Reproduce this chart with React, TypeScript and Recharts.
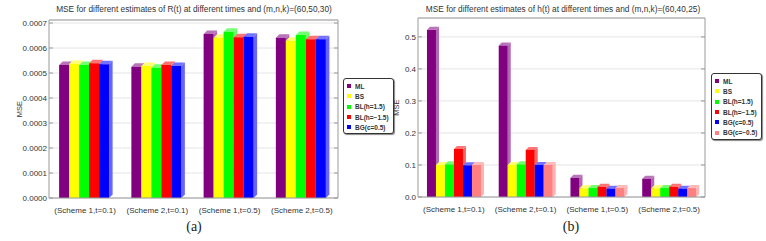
import React from 'react';
import { BarChart, Bar, XAxis, YAxis, CartesianGrid, Legend } from 'recharts';

const categories = ['(Scheme 1,t=0.1)', '(Scheme 2,t=0.1)', '(Scheme 1,t=0.5)', '(Scheme 2,t=0.5)'];

// (a) MSE of R(t), (m,n,k)=(60,50,30)
const rML = [0.000532, 0.000525, 0.000656, 0.000641];
const rBS = [0.000536, 0.000528, 0.000641, 0.000629];
const rBLpos = [0.000532, 0.000521, 0.000665, 0.000652];
const rBLneg = [0.000539, 0.000532, 0.000643, 0.000635];
const rBGpos = [0.000535, 0.000528, 0.000645, 0.000635];
const rTicks = [0, 0.0001, 0.0002, 0.0003, 0.0004, 0.0005, 0.0006, 0.0007];
const rTickLabels = ['0.0000', '0.0001', '0.0002', '0.0003', '0.0004', '0.0005', '0.0006', '0.0007'];

// (b) MSE of h(t), (m,n,k)=(60,40,25)
const hML = [0.522, 0.473, 0.06, 0.057];
const hBS = [0.1, 0.1, 0.027, 0.027];
const hBLpos = [0.102, 0.102, 0.028, 0.028];
const hBLneg = [0.15, 0.147, 0.032, 0.032];
const hBGpos = [0.099, 0.1, 0.026, 0.026];
const hBGneg = [0.1, 0.1, 0.028, 0.028];
const hTicks = [0, 0.1, 0.2, 0.3, 0.4, 0.5];
const hTickLabels = ['0.0', '0.1', '0.2', '0.3', '0.4', '0.5'];

const FONT = '"Liberation Sans", Arial, sans-serif';
const FRAME = '#9a9a9a';

const seriesR = [
  { key: 'ml', name: 'ML', color: '#800080', values: rML },
  { key: 'bs', name: 'BS', color: '#ffff00', values: rBS },
  { key: 'blp', name: 'BL(h=1.5)', color: '#00ff00', values: rBLpos },
  { key: 'bln', name: 'BL(h=\u22121.5)', color: '#ff0000', values: rBLneg },
  { key: 'bgp', name: 'BG(c=0.5)', color: '#0000ff', values: rBGpos },
];

const seriesH = [
  { key: 'ml', name: 'ML', color: '#800080', values: hML },
  { key: 'bs', name: 'BS', color: '#ffff00', values: hBS },
  { key: 'blp', name: 'BL(h=1.5)', color: '#00ff00', values: hBLpos },
  { key: 'bln', name: 'BL(h=\u22121.5)', color: '#ff0000', values: hBLneg },
  { key: 'bgp', name: 'BG(c=0.5)', color: '#0000ff', values: hBGpos },
  { key: 'bgn', name: 'BG(c=\u22120.5)', color: '#ff8080', values: hBGneg },
];

type Series = { key: string; name: string; color: string; values: number[] };

function toRows(series: Series[]) {
  return categories.map((c, i) => {
    const row: Record<string, string | number> = { cat: c };
    series.forEach((s) => (row[s.key] = s.values[i]));
    return row;
  });
}

// mix a hex colour with white
function light(hex: string, t: number) {
  const n = parseInt(hex.slice(1), 16);
  const ch = [(n >> 16) & 255, (n >> 8) & 255, n & 255].map((v) => Math.round(v + (255 - v) * t));
  return `rgb(${ch.join(',')})`;
}

function Bar3D(props: any) {
  const { x, y, width, height, fill, depth } = props;
  if (!height || height <= 0) return null;
  const d = depth;
  const top = `${x},${y} ${x + d},${y - d} ${x + width + d},${y - d} ${x + width},${y}`;
  const side = `${x + width},${y} ${x + width + d},${y - d} ${x + width + d},${y + height - d} ${x + width},${y + height}`;
  return (
    <g>
      <polygon points={side} fill={light(fill, 0.4)} />
      <polygon points={top} fill={light(fill, 0.45)} />
      <rect x={x} y={y} width={width} height={height} fill={fill} />
    </g>
  );
}

function LegendBox({ series }: { series: Series[] }) {
  return (
    <div
      style={{
        border: '1px solid #333',
        borderRadius: 3,
        background: '#fff',
        boxShadow: '1px 1px 1px #888',
        padding: '2px 4px 1px 3px',
        fontFamily: FONT,
        fontSize: 6.5,
        fontWeight: 'bold',
        color: '#333',
        whiteSpace: 'nowrap',
      }}
    >
      {series.map((s) => (
        <div key={s.key} style={{ display: 'flex', alignItems: 'center', height: 10.3 }}>
          <span style={{ display: 'inline-block', width: 4, height: 4, background: s.color, marginRight: 4 }} />
          {s.name}
        </div>
      ))}
    </div>
  );
}

function MseLabel({ viewBox, dx }: any) {
  const cy = viewBox.y + viewBox.height / 2;
  const cx = viewBox.x + dx;
  return (
    <text x={cx} y={cy} transform={`rotate(-90 ${cx} ${cy})`} textAnchor="middle" dominantBaseline="middle" fontSize={7.5} fill="#333" fontFamily={FONT}>
      MSE
    </text>
  );
}

const tickStyle = { fontSize: 8, fill: '#333', fontFamily: FONT };

function Panel(props: {
  series: Series[];
  width: number;
  height: number;
  yWidth: number;
  domain: [number, number];
  ticks: number[];
  labels: string[];
  title: string;
  titleX: number;
  marginTop: number;
  marginRight: number;
  gap: string;
  depth: number;
  legendLeft: number;
  legendTop: number;
  labelDx: number;
}) {
  const rows = toRows(props.series);
  return (
    <BarChart
      width={props.width}
      height={props.height}
      data={rows}
      margin={{ top: props.marginTop, right: props.marginRight, left: 0, bottom: 0 }}
      barGap={0}
      barCategoryGap={props.gap}
    >
      <text x={props.titleX} y={12} textAnchor="middle" fontSize={8.3} fill="#333" fontFamily={FONT}>
        {props.title}
      </text>
      <CartesianGrid vertical={false} stroke="#e4e4e4" yAxisId="left" />
      <XAxis dataKey="cat" tick={tickStyle} tickLine={false} axisLine={{ stroke: FRAME }} height={17} interval={0} tickMargin={3} />
      <XAxis xAxisId="top" dataKey="cat" orientation="top" height={1} tick={() => null} tickLine={false} axisLine={{ stroke: FRAME }} />
      <YAxis
        yAxisId="left"
        width={props.yWidth}
        domain={props.domain}
        ticks={props.ticks}
        tickFormatter={(v: number, i: number) => props.labels[i]}
        tick={tickStyle}
        tickSize={-4}
        tickMargin={6}
        tickLine={{ stroke: FRAME }}
        axisLine={{ stroke: FRAME }}
        allowDataOverflow
        label={<MseLabel dx={props.labelDx} />}
      />
      <YAxis
        yAxisId="right"
        orientation="right"
        width={1}
        domain={props.domain}
        ticks={props.ticks}
        tick={() => null}
        tickSize={-4}
        tickLine={{ stroke: FRAME }}
        axisLine={{ stroke: FRAME }}
        allowDataOverflow
      />
      <Legend
        layout="horizontal"
        verticalAlign="middle"
        align="center"
        wrapperStyle={{ left: props.legendLeft, top: props.legendTop, width: 'auto', height: 'auto' }}
        content={() => <LegendBox series={props.series} />}
      />
      {props.series.map((s) => (
        <Bar
          key={s.key}
          dataKey={s.key}
          name={s.name}
          yAxisId="left"
          fill={s.color}
          isAnimationActive={false}
          shape={(p: any) => <Bar3D {...p} depth={props.depth} />}
        />
      ))}
    </BarChart>
  );
}

export default function App() {
  return (
    <div style={{ position: 'absolute', left: 0, top: 0, width: 766, height: 241, background: '#fff', overflow: 'hidden' }}>
      <div style={{ position: 'absolute', left: 0, top: 0, width: 390, height: 215 }}>
        <Panel
          series={seriesR}
          width={390}
          height={215}
          yWidth={49}
          domain={[0, 0.000712]}
          ticks={rTicks}
          labels={rTickLabels}
          title="MSE for different estimates of R(t) at different times and (m,n,k)=(60,50,30)"
          titleX={194}
          marginTop={19}
          marginRight={51}
          gap="14%"
          depth={3.5}
          legendLeft={343}
          legendTop={78}
          labelDx={20}
        />
      </div>
      <div style={{ position: 'absolute', left: 390, top: 0, width: 376, height: 214 }}>
        <Panel
          series={seriesH}
          width={376}
          height={214}
          yWidth={28}
          domain={[0, 0.559]}
          ticks={hTicks}
          labels={hTickLabels}
          title="MSE for different estimates of h(t) at different times and (m,n,k)=(60,40,25)"
          titleX={173}
          marginTop={17}
          marginRight={60}
          gap="12.5%"
          depth={3}
          legendLeft={321}
          legendTop={73}
          labelDx={7}
        />
      </div>
      <div style={{ position: 'absolute', left: 174, top: 219, width: 40, textAlign: 'center', fontFamily: '"Liberation Serif", serif', fontSize: 14, color: '#222' }}>
        (a)
      </div>
      <div style={{ position: 'absolute', left: 551, top: 219, width: 40, textAlign: 'center', fontFamily: '"Liberation Serif", serif', fontSize: 14, color: '#222' }}>
        (b)
      </div>
    </div>
  );
}
